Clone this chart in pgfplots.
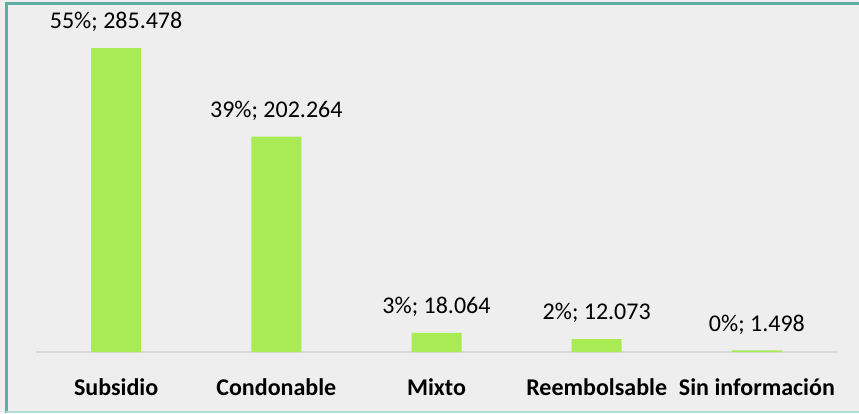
\documentclass[border=0pt]{standalone}
\usepackage{pgfplots}
\pgfplotsset{compat=1.18}
\usepackage{fontspec}
\setmainfont{Carlito}
\usetikzlibrary{backgrounds}
\definecolor{barcol}{HTML}{A9EB55}
\definecolor{bgcol}{HTML}{EEEEEE}
\definecolor{framecol}{HTML}{5FAE9F}
\definecolor{framelight}{HTML}{B0DAD3}
\definecolor{basecol}{HTML}{D9D9D9}
% semicolon hidden from pgfplots' internal lists
\protected\def\semi{;}

\begin{document}
\begin{tikzpicture}
\begin{axis}[
  at={(0,0)}, anchor=south west,
  scale only axis, width=801pt, height=348pt,
  xmin=-0.5, xmax=4.5, ymin=0, ymax=326.8,
  ybar, bar width=50pt,
  hide y axis, axis x line*=bottom,
  x axis line style={draw=basecol, line width=1.5pt},
  xtick={0,...,4},
  xticklabels={Subsidio,Condonable,Mixto,Reembolsable,Sin información},
  xtick style={draw=none},
  xticklabel style={font=\fontsize{24}{28}\selectfont\bfseries, anchor=center, yshift=-31pt},
  nodes near coords,
  point meta=explicit symbolic,
  nodes near coords style={font=\fontsize{24}{28}\selectfont, anchor=center, yshift=26pt},
  clip=false,
]
\addplot[fill=barcol, draw=none] coordinates {
  (0,285.478) [55\%\semi{} 285.478]
  (1,202.264) [39\%\semi{} 202.264]
  (2,18.064)  [3\%\semi{} 18.064]
  (3,12.073)  [2\%\semi{} 12.073]
  (4,1.498)   [0\%\semi{} 1.498]
};
\end{axis}
\begin{scope}[on background layer]
  \fill[bgcol] (-36pt,-61pt) rectangle (823pt,352pt);
\end{scope}
\draw[framecol, line width=3pt] (-30pt,-61pt) -- (-30pt,348pt) -- (823pt,348pt);
\draw[framelight, line width=1.5pt] (-30pt,-60pt) -- (823pt,-60pt);
\pgfresetboundingbox
\path[use as bounding box] (-36pt,-61pt) rectangle (823pt,352pt);
\end{tikzpicture}
\end{document}
